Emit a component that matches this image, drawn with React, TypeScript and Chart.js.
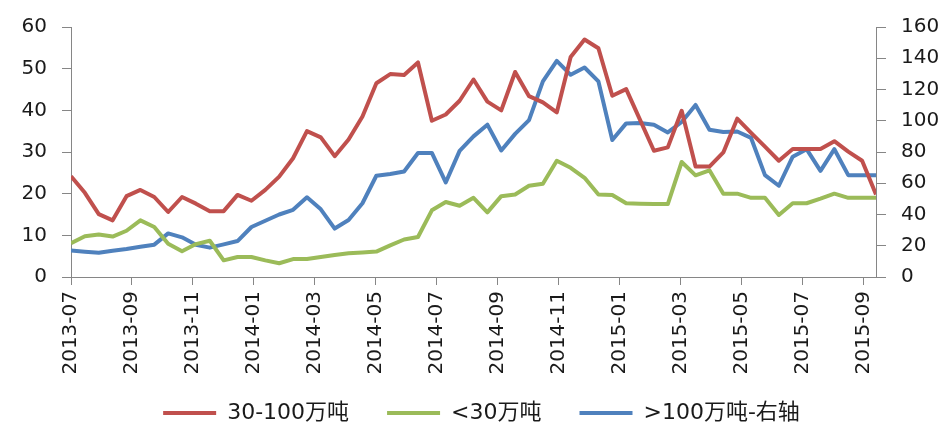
import { useEffect, useRef } from "react";
import { Chart, registerables } from "chart.js";

Chart.register(...registerables);

// Tick labels of the date axis (every two months)
const tickLabels = [
  "2013-07", "2013-09", "2013-11", "2014-01", "2014-03", "2014-05", "2014-07",
  "2014-09", "2014-11", "2015-01", "2015-03", "2015-05", "2015-07", "2015-09",
];

// Series names
const seriesNames = ["30-100万吨", "<30万吨", ">100万吨-右轴"];

// Sampling interval of the observations, in months (about two weeks)
const PERIOD_MONTHS = 26.41 / 58;

// 30-100万吨 (left axis)
const midValues = [
  24.2, 20.2, 15.1, 13.6, 19.4, 20.9, 19.2, 15.6, 19.2, 17.6,
  15.8, 15.8, 19.7, 18.3, 20.9, 24.1, 28.5, 35.0, 33.5, 29.0,
  33.0, 38.5, 46.5, 48.7, 48.5, 51.5, 37.5, 39.0, 42.3, 47.4,
  42.1, 40.0, 49.2, 43.4, 41.9, 39.5, 52.8, 57.0, 54.9, 43.5,
  45.1, 37.7, 30.3, 31.1, 39.9, 26.5, 26.5, 29.9, 38.0, 34.6,
  31.3, 27.9, 30.7, 30.7, 30.7, 32.6, 30.1, 27.9, 19.8,
];

// <30万吨 (left axis)
const smallValues = [
  8.1, 9.8, 10.2, 9.7, 11.1, 13.6, 12.0, 8.0, 6.2, 7.9,
  8.7, 4.0, 4.8, 4.8, 4.0, 3.3, 4.3, 4.3, 4.8, 5.3,
  5.7, 5.9, 6.1, 7.6, 9.0, 9.6, 16.0, 18.0, 17.1, 19.0,
  15.5, 19.4, 19.8, 21.9, 22.4, 27.9, 26.2, 23.8, 19.8, 19.7,
  17.7, 17.6, 17.5, 17.5, 27.6, 24.4, 25.6, 20.0, 20.0, 19.0,
  19.0, 14.9, 17.7, 17.7, 18.8, 20.0, 19.0, 19.0, 19.0,
];

// >100万吨 (right axis)
const largeValues = [
  17.0, 16.2, 15.5, 16.8, 17.9, 19.3, 20.7, 27.9, 25.4, 20.6,
  18.8, 20.9, 23.0, 32.0, 36.0, 40.0, 43.0, 51.0, 43.3, 31.0,
  36.5, 47.2, 64.8, 65.9, 67.5, 79.4, 79.4, 60.5, 80.7, 90.0,
  97.5, 81.0, 91.6, 100.4, 125.2, 138.3, 129.4, 134.1, 125.2, 87.7,
  98.3, 98.5, 97.5, 92.5, 99.2, 110.1, 94.2, 92.8, 93.1, 89.0,
  65.2, 58.4, 77.0, 81.8, 67.9, 81.8, 65.2, 65.2, 65.2,
];

const FONT_FAMILY = "'DejaVu Sans', 'Noto Sans CJK SC', sans-serif";
const AXIS_COLOR = "#868686";
const TEXT_COLOR = "#1a1a1a";

// Moves the legend box after layout so the x labels keep their full height
const legendShift = {
  id: "legendShift",
  afterLayout(chart: any) {
    const l = chart.legend;
    if (!l) return;
    l.top -= 13;
    l.bottom -= 13;
    l.left += 8;
    l.right += 8;
  },
};

export default function App() {
  const ref = useRef<HTMLCanvasElement | null>(null);

  useEffect(() => {
    if (!ref.current) return;
    const toXY = (arr: number[]) => arr.map((v, i) => ({ x: i * PERIOD_MONTHS, y: v }));
    const lineDs = (label: string, data: number[], color: string, axis: string) => ({
      label,
      data: toXY(data),
      borderColor: color,
      backgroundColor: color,
      borderWidth: 4,
      pointRadius: 0,
      tension: 0,
      yAxisID: axis,
      borderJoinStyle: "round" as const,
    });

    const chart = new Chart(ref.current, {
      type: "line",
      data: {
        datasets: [
          lineDs(seriesNames[0], midValues, "#C0504D", "y"),
          lineDs(seriesNames[1], smallValues, "#9BBB59", "y"),
          lineDs(seriesNames[2], largeValues, "#4F81BD", "y1"),
        ],
      },
      plugins: [legendShift],
      options: {
        animation: false,
        responsive: false,
        layout: { padding: { top: 19, bottom: -23, left: 0, right: 0 } },
        plugins: {
          tooltip: { enabled: false },
          legend: {
            position: "bottom",
            labels: {
              boxWidth: 53,
              boxHeight: 4,
              padding: 38,
              color: TEXT_COLOR,
              font: { size: 22, family: FONT_FAMILY },
              generateLabels: (c: any) =>
                c.data.datasets.map((ds: any, i: number) => ({
                  text: ds.label,
                  fillStyle: ds.borderColor,
                  strokeStyle: ds.borderColor,
                  lineWidth: 0,
                  hidden: false,
                  datasetIndex: i,
                  fontColor: TEXT_COLOR,
                })),
            },
          },
        },
        scales: {
          x: {
            type: "linear",
            min: 0,
            max: 58 * PERIOD_MONTHS,
            afterBuildTicks: (s: any) => {
              s.ticks = tickLabels.map((_, k) => ({ value: k * 2 }));
            },
            afterFit: (s: any) => {
              s.height = 100;
            },
            ticks: {
              autoSkip: false,
              maxRotation: 90,
              minRotation: 90,
              padding: 6,
              color: TEXT_COLOR,
              font: { size: 20, family: FONT_FAMILY },
              callback: (v: any) => tickLabels[Math.round(Number(v) / 2)] ?? "",
            },
            grid: { drawOnChartArea: false, drawTicks: true, tickLength: 8, color: AXIS_COLOR },
            border: { display: true, color: AXIS_COLOR, width: 1 },
          },
          y: {
            position: "left",
            min: 0,
            max: 60,
            afterFit: (s: any) => {
              s.width = 71;
            },
            ticks: {
              stepSize: 10,
              padding: 15,
              color: TEXT_COLOR,
              font: { size: 20, family: FONT_FAMILY },
            },
            grid: { drawOnChartArea: false, drawTicks: true, tickLength: 9, color: AXIS_COLOR },
            border: { display: true, color: AXIS_COLOR, width: 1 },
          },
          y1: {
            position: "right",
            min: 0,
            max: 160,
            afterFit: (s: any) => {
              s.width = 71;
            },
            ticks: {
              stepSize: 20,
              padding: 15,
              color: TEXT_COLOR,
              font: { size: 20, family: FONT_FAMILY },
            },
            grid: { drawOnChartArea: false, drawTicks: true, tickLength: 10, color: AXIS_COLOR },
            border: { display: true, color: AXIS_COLOR, width: 1 },
          },
        },
      },
    } as any);

    return () => chart.destroy();
  }, []);

  return (
    <div style={{ position: "fixed", left: 0, top: 0, width: 947, height: 424, background: "#fff" }}>
      <canvas ref={ref} width={947} height={424} style={{ display: "block", width: 947, height: 424 }} />
    </div>
  );
}
